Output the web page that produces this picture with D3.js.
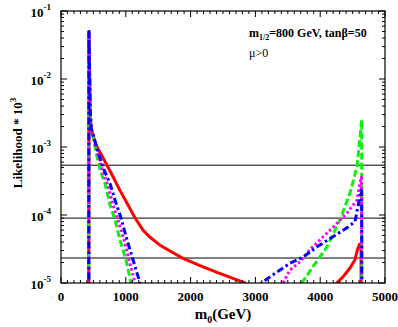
<!DOCTYPE html>
<html><head><meta charset="utf-8">
<script src="https://cdn.jsdelivr.net/npm/d3@7"></script>
<style>body{margin:0;background:#fff}svg{display:block}text{font-family:"Liberation Serif","Times New Roman",serif}</style>
</head><body><svg id="c" width="398" height="327"></svg>
<script>
// ---- data ----
const xTicks = [0, 1000, 2000, 3000, 4000, 5000];
const yTickExp = [-1, -2, -3, -4, -5];
const hLines = [5.4e-4, 9.0e-5, 2.33e-5];

const redM0 = [428,431,450,465,540,664,787,910,1034,1142,1265,1373,1528,1682,1883,2145,2407,2654,2840,2900, 4200,4255,4352,4460,4537,4575,4606,4630,4635];
const redL  = [1e-7,5e-2,3.5e-3,1.9e-3,1.07e-3,6.5e-4,3.9e-4,2.3e-4,1.4e-4,9.1e-5,6.0e-5,4.7e-5,3.6e-5,2.95e-5,2.3e-5,1.8e-5,1.43e-5,1.17e-5,1e-5,1e-7, 1e-7,1e-5,1.23e-5,1.66e-5,2.2e-5,3.1e-5,3.7e-5,3.8e-5,1e-7];

const greenM0 = [428,431,450,465,551,602,679,756,833,910,1003,1080,1120, 3650,3715,3889,4105,4305,4460,4568,4614,4640,4645];
const greenL  = [1e-7,5e-2,3.5e-3,1.9e-3,7.6e-4,4.6e-4,2.9e-4,1.4e-4,8.5e-5,4.3e-5,2.2e-5,1e-5,1e-7, 1e-7,1e-5,1.74e-5,3.4e-5,8.5e-5,2.1e-4,5.1e-4,1.4e-3,2.5e-3,1e-7];

const magentaM0 = [428,431,450,465,571,648,725,802,880,972,1049,1142,1180, 3380,3426,3534,3688,3842,3997,4198,4414,4568,4614,4637,4642];
const magentaL  = [1e-7,5e-2,3.5e-3,1.9e-3,7.6e-4,4.3e-4,2.7e-4,1.4e-4,8.5e-5,4.3e-5,2.2e-5,1e-5,1e-7, 1e-7,1e-5,1.55e-5,2.05e-5,3.1e-5,4.3e-5,6.6e-5,1.07e-4,1.66e-4,2.95e-4,3.6e-4,1e-7];

const blueM0 = [428,431,450,465,586,664,756,833,926,1019,1111,1219,1260, 3050,3097,3225,3380,3534,3735,3951,4198,4414,4537,4573,4604,4626,4640,4645];
const blueL  = [1e-7,5e-2,3.5e-3,1.9e-3,7.6e-4,4.6e-4,2.9e-4,1.66e-4,9.1e-5,4.3e-5,2.2e-5,1e-5,1e-7, 1e-7,1e-5,1.23e-5,1.55e-5,1.95e-5,2.4e-5,3.4e-5,4.8e-5,6.5e-5,8.0e-5,1.2e-4,1.66e-4,2.3e-4,2.3e-4,1e-7];

// ---- layout ----
const L = 61, R = 385, T = 11, B = 283;
const svg = d3.select("#c");
const x = d3.scaleLinear().domain([0, 5000]).range([L, R]);
const y = d3.scaleLog().domain([1e-5, 1e-1]).range([B, T]);

svg.append("defs").append("clipPath").attr("id","clip")
  .append("rect").attr("x",L).attr("y",T).attr("width",R-L).attr("height",B-T);

// horizontal reference lines
svg.append("g").selectAll("line").data(hLines).join("line")
  .attr("x1",L).attr("x2",R).attr("y1",d=>y(d)).attr("y2",d=>y(d))
  .attr("stroke","#000").attr("stroke-width",1);

// series
const series = [
  {m:redM0, v:redL, color:"#ff0000", dash:null},
  {m:greenM0, v:greenL, color:"#11ee11", dash:"7,3"},
  {m:magentaM0, v:magentaL, color:"#ff00ff", dash:"2.5,2.5"},
  {m:blueM0, v:blueL, color:"#0000ff", dash:"7,3,2.5,3"}
];
const line = d3.line().x(d=>x(d[0])).y(d=>y(d[1]));
const gS = svg.append("g").attr("clip-path","url(#clip)");
series.forEach(s=>{
  gS.append("path").datum(s.m.map((m,i)=>[m,s.v[i]]))
    .attr("d",line).attr("fill","none").attr("stroke",s.color)
    .attr("stroke-width",3).attr("stroke-dasharray",s.dash)
    .attr("stroke-linejoin","round");
});

// axes (inward ticks)
const gA = svg.append("g").attr("stroke","#000").attr("stroke-width",1);
const minorX = d3.range(0, 5001, 100);
minorX.forEach(v=>{
  const len = v % 1000 === 0 ? 6 : 3;
  gA.append("line").attr("x1",x(v)).attr("x2",x(v)).attr("y1",B).attr("y2",B-len);
  gA.append("line").attr("x1",x(v)).attr("x2",x(v)).attr("y1",T).attr("y2",T+len);
});
const minorY = [];
for (let e=-5; e<-1; e++) for (let k=1; k<10; k++) minorY.push(k*Math.pow(10,e));
minorY.push(1e-1);
minorY.forEach(v=>{
  const major = Math.abs(Math.log10(v) - Math.round(Math.log10(v))) < 1e-9;
  const len = major ? 6 : 3;
  gA.append("line").attr("x1",L).attr("x2",L+len).attr("y1",y(v)).attr("y2",y(v));
  gA.append("line").attr("x1",R).attr("x2",R-len).attr("y1",y(v)).attr("y2",y(v));
});
svg.append("rect").attr("x",L).attr("y",T).attr("width",R-L).attr("height",B-T)
  .attr("fill","none").attr("stroke","#000").attr("stroke-width",1.2);

// tick labels
svg.append("g").selectAll("text").data(xTicks).join("text")
  .attr("x",d=>x(d)).attr("y",301).attr("text-anchor","middle")
  .attr("font-size",13).attr("font-weight","bold").text(d=>d);

const yl = svg.append("g").selectAll("text").data(yTickExp).join("text")
  .attr("x",51).attr("y",d=>y(Math.pow(10,d))+6).attr("text-anchor","end")
  .attr("font-size",13).attr("font-weight","bold");
yl.append("tspan").text("10");
yl.append("tspan").attr("dy",-7).attr("font-size",9).text(d=>"-"+Math.abs(d));

// axis titles
const xt = svg.append("text").attr("x",223).attr("y",319).attr("text-anchor","middle")
  .attr("font-size",15).attr("font-weight","bold");
xt.append("tspan").text("m");
xt.append("tspan").attr("dy",4).attr("font-size",10).text("0");
xt.append("tspan").attr("dy",-4).text("(GeV)");

const yt = svg.append("text").attr("transform","translate(22,143) rotate(-90)")
  .attr("text-anchor","middle").attr("font-size",13).attr("font-weight","bold");
yt.append("tspan").text("Likelihood * 10");
yt.append("tspan").attr("dy",-6).attr("font-size",9).text("3");

// annotations
const a1 = svg.append("text").attr("x",249).attr("y",37).attr("font-size",12).attr("font-weight","bold");
a1.append("tspan").text("m");
a1.append("tspan").attr("dy",3).attr("font-size",8).text("1/2");
a1.append("tspan").attr("dy",-3).text("=800 GeV, tan\u03b2=50");
svg.append("text").attr("x",249).attr("y",57).attr("font-size",12).text("\u03bc>0");
</script></body></html>
